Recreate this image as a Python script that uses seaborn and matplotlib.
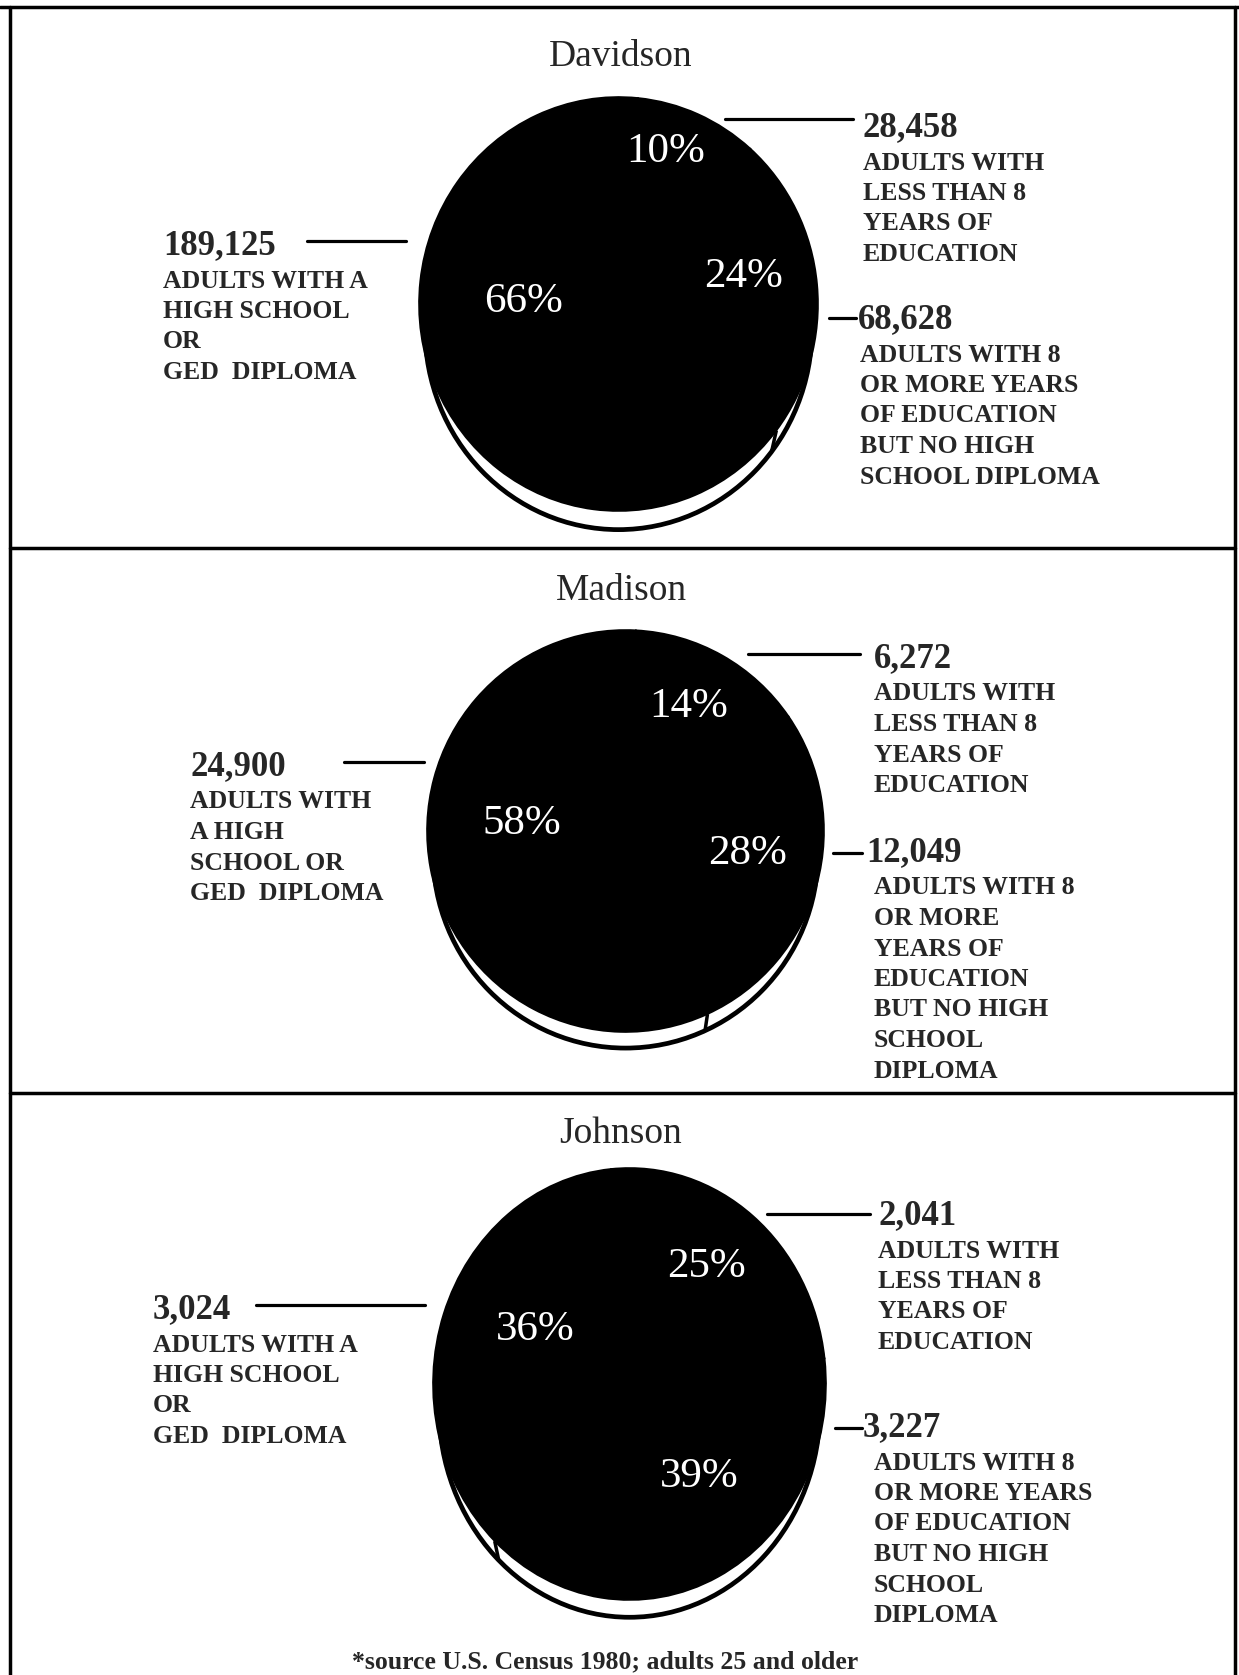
import matplotlib
matplotlib.use("Agg")
import matplotlib.pyplot as plt
from matplotlib.patches import Ellipse
import numpy as np
import seaborn as sns

# ---------------- data ----------------
counties = ["Davidson", "Madison", "Johnson"]
# order: less than 8 yrs, 8+ yrs no diploma, high school / GED
davidson_counts = [28458, 68628, 189125]
madison_counts = [6272, 12049, 24900]
johnson_counts = [2041, 3227, 3024]
davidson_pct = ["10%", "24%", "66%"]
madison_pct = ["14%", "28%", "58%"]
johnson_pct = ["25%", "39%", "36%"]
davidson_numbers = ["28,458", "68,628", "189,125"]
madison_numbers = ["6,272", "12,049", "24,900"]
johnson_numbers = ["2,041", "3,227", "3,024"]
davidson_desc = [
    ["ADULTS WITH", "LESS THAN 8", "YEARS OF", "EDUCATION"],
    ["ADULTS WITH 8", "OR MORE YEARS", "OF EDUCATION", "BUT NO HIGH", "SCHOOL DIPLOMA"],
    ["ADULTS WITH A", "HIGH SCHOOL", "OR", "GED  DIPLOMA"],
]
madison_desc = [
    ["ADULTS WITH", "LESS THAN 8", "YEARS OF", "EDUCATION"],
    ["ADULTS WITH 8", "OR MORE", "YEARS OF", "EDUCATION", "BUT NO HIGH", "SCHOOL", "DIPLOMA"],
    ["ADULTS WITH", "A HIGH", "SCHOOL OR", "GED  DIPLOMA"],
]
johnson_desc = [
    ["ADULTS WITH", "LESS THAN 8", "YEARS OF", "EDUCATION"],
    ["ADULTS WITH 8", "OR MORE YEARS", "OF EDUCATION", "BUT NO HIGH", "SCHOOL", "DIPLOMA"],
    ["ADULTS WITH A", "HIGH SCHOOL", "OR", "GED  DIPLOMA"],
]
footnote = "*source U.S. Census 1980; adults 25 and older"

# ---------------- layout (pixels, origin top-left) ----------------
W, H = 1239, 1675
sns.set_style("white")
plt.rcParams["font.family"] = ["Liberation Serif", "DejaVu Serif"]

fig = plt.figure(figsize=(W / 100, H / 100), dpi=100)
fig.patch.set_facecolor("white")
over = fig.add_axes([0, 0, 1, 1], zorder=5)
over.set_xlim(0, W)
over.set_ylim(H, 0)
over.axis("off")
over.patch.set_alpha(0)

# frame
lw_frame = 2.5
over.plot([0, 1239], [7, 7], color="black", lw=lw_frame)
over.plot([10, 10], [7, H], color="black", lw=lw_frame)
over.plot([1235, 1235], [7, H], color="black", lw=lw_frame)
over.plot([10, 1235], [548, 548], color="black", lw=lw_frame)
over.plot([10, 1235], [1093, 1093], color="black", lw=lw_frame)

panels = [
    dict(name=counties[0], counts=davidson_counts, pct=davidson_pct, nums=davidson_numbers,
         desc=davidson_desc, box=(419, 818, 97, 511), rim=0.10, start=84.4,
         pctpos=[(73, 0.81), (15, 0.65), (174, 0.48)],
         title_y=57,
         right1=dict(line=(725, 853, 119), x=863, y=128, dx=0),
         right2=dict(line=(829, 856, 318), x=858, y=320, dx=2),
         left=dict(line=(307, 406, 241), x=163, y=246, dx=0)),
    dict(name=counties[1], counts=madison_counts, pct=madison_pct, nums=madison_numbers,
         desc=madison_desc, box=(427, 824, 630, 1032), rim=0.09, start=87,
         pctpos=[(64, 0.73), (-7, 0.62), (172, 0.53)],
         title_y=591,
         right1=dict(line=(748, 860, 654), x=874, y=659, dx=0),
         right2=dict(line=(833, 862, 853), x=866, y=853, dx=8),
         left=dict(line=(344, 424, 762), x=190, y=767, dx=0)),
    dict(name=counties[2], counts=johnson_counts, pct=johnson_pct, nums=johnson_numbers,
         desc=johnson_desc, box=(433, 826, 1168, 1600), rim=0.09, start=95.4,
         pctpos=[(56, 0.70), (-48, 0.53), (149, 0.56)],
         title_y=1134,
         right1=dict(line=(767, 870, 1214), x=878, y=1216, dx=0),
         right2=dict(line=(835, 862, 1428), x=863, y=1428, dx=11),
         left=dict(line=(256, 425, 1305), x=153, y=1310, dx=0)),
]

num_size = 25
desc_size = 18.5
line_gap = 30.5

def block(x, y, number, lines, dx=0, first_gap=35):
    over.text(x, y, number, fontsize=num_size, fontweight="bold", ha="left", va="center")
    for i, s in enumerate(lines):
        over.text(x + dx, y + first_gap + i * line_gap, s, fontsize=desc_size,
                  fontweight="bold", ha="left", va="center")

for p in panels:
    x0, x1, yt, yb = p["box"]
    pw, ph = x1 - x0, yb - yt
    mx, mtop, mbot = 0.15, 0.1, 0.3
    left_px = x0 - mx * pw / 2
    right_px = x1 + mx * pw / 2
    top_px = yt - mtop * ph / 2
    bot_px = yb + mbot * ph / 2
    ax = fig.add_axes([left_px / W, 1 - bot_px / H, (right_px - left_px) / W, (bot_px - top_px) / H])
    wedges, _ = ax.pie(p["counts"], colors=["black"] * 3, startangle=p["start"],
                       counterclock=False,
                       wedgeprops=dict(edgecolor="black", linewidth=1.2))
    ax.set_aspect("auto")
    ax.set_xlim(-1 - mx, 1 + mx)
    ax.set_ylim(-1 - mbot, 1 + mtop)
    ax.axis("off")
    # 3-D style rim under the pie
    rr = 0.97
    cy = -(1 + p["rim"] - 0.01) + rr
    ax.add_patch(Ellipse((0, cy), 2 * rr, 2 * rr, facecolor="white", edgecolor="black",
                         linewidth=3.4, zorder=0.5))
    # slice-boundary ticks visible on the rim
    for w in wedges:
        a = np.deg2rad(w.theta1)
        if np.sin(a) < -0.3:
            ax.plot([np.cos(a), rr * np.cos(a)], [np.sin(a), cy + rr * np.sin(a)],
                    color="black", lw=2.5, zorder=0.6, solid_capstyle="butt")
    yshift = -8 / (ph / 2)
    for lab, (ang, r) in zip(p["pct"], p["pctpos"]):
        a = np.deg2rad(ang)
        ax.text(r * np.cos(a), r * np.sin(a) + yshift, lab, color="white", fontsize=31,
                ha="center", va="center", zorder=3)

    over.text(621, p["title_y"], p["name"], fontsize=27, ha="center", va="center")

    for key, idx in (("right1", 0), ("right2", 1), ("left", 2)):
        b = p[key]
        over.plot([b["line"][0], b["line"][1]], [b["line"][2]] * 2, color="black", lw=2.3)
        block(b["x"], b["y"], p["nums"][idx], p["desc"][idx], dx=b["dx"])

over.text(605, 1662, footnote, fontsize=18.5, fontweight="bold", ha="center", va="center")

fig.savefig("out.png", dpi=100, facecolor="white")
